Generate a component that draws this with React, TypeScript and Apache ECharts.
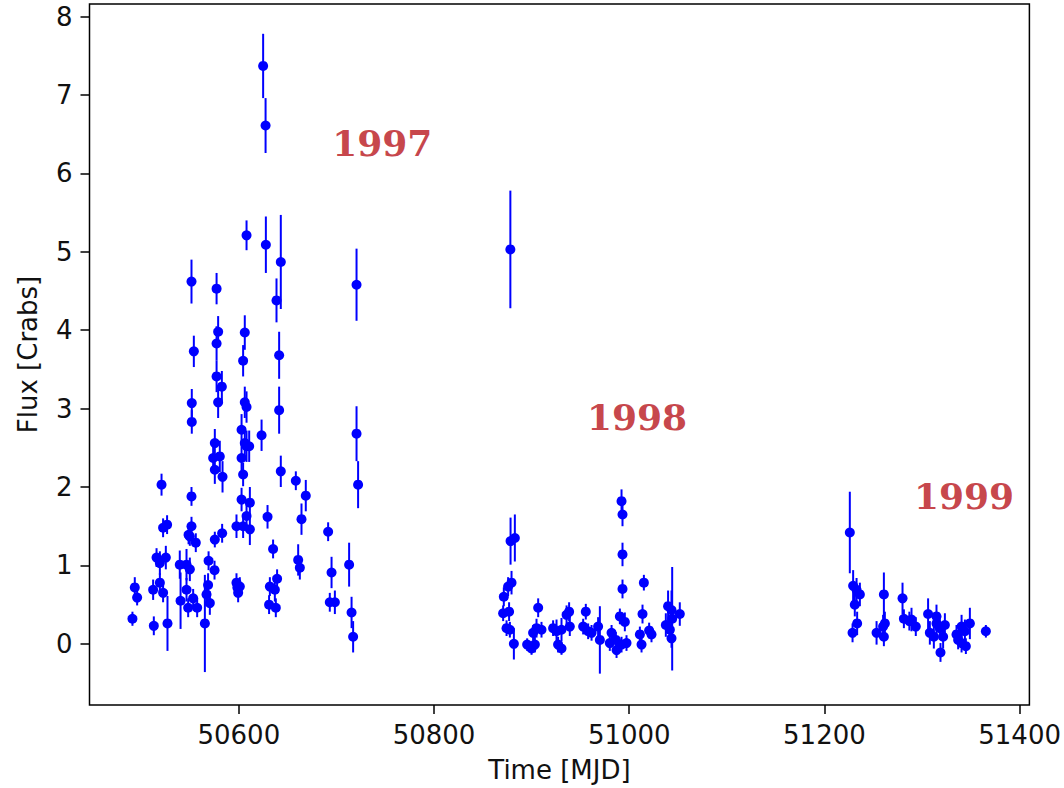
import React, { useEffect, useRef } from "react";
import * as echarts from "echarts";

// Observation times (MJD)
const mjd = [
  // 1997
  50491, 50493.4, 50495.8, 50512.2, 50512.9, 50515.7, 50519.1, 50519.1, 50520.8, 50522.4,
  50522.4, 50525.2, 50526.5, 50526.9, 50539.5, 50540.3, 50546.4, 50546.4, 50548.1, 50548.5,
  50549.8, 50549.8, 50551.5, 50551.5, 50551.5, 50553.9, 50551.8, 50551.8, 50553.2, 50555.9,
  50557.3, 50565.2, 50566.9, 50568.5, 50569, 50570.3, 50573.7, 50575.1, 50575.4, 50575.4,
  50575.4, 50577.2, 50577.2, 50577.2, 50578.8, 50578.8, 50580.5, 50582.6, 50582.9, 50583.3,
  50597.6, 50597.6, 50599.3, 50598.5, 50601, 50602.8, 50602.8, 50602.8, 50604.4, 50604.4,
  50604.4, 50606.1, 50606.1, 50606.1, 50607.9, 50607.9, 50607.9, 50607.9, 50610.6, 50611.3,
  50611.3, 50623.3, 50624.9, 50627.4, 50627.7, 50629.4, 50631, 50631.8, 50635.1, 50636.9,
  50637.9, 50638.6, 50639.2, 50641.3, 50641.3, 50643, 50643, 50658.4, 50660.8, 50662.5,
  50664.2, 50668.6, 50691.5, 50693.2, 50695, 50698.4, 50713, 50715.5, 50717.1, 50720.6,
  50720.6, 50722.2,
  // 1998
  50870.8, 50871.5, 50874.3, 50875.9, 50876.9, 50877.7, 50878.2, 50878.4, 50879.4, 50881.8,
  50882.8, 50895.4, 50899.9, 50901.5, 50903.3, 50905, 50906.7, 50910.1, 50922, 50925.5,
  50927.1, 50930.6, 50930.6, 50935.8, 50938.4, 50939.1, 50952.8, 50955.5, 50957.9, 50961.4,
  50968.1, 50969.9, 50980.1, 50981.9, 50986.3, 50987, 50990.4, 50992.1, 50992.1, 50993.1,
  50993.1, 50993.1, 50995.5, 50997.2, 51010.9, 51012.6, 51013.6, 51015, 51020.4, 51022.8,
  51037.5, 51039.8, 51041.6, 51043.3, 51044, 51043.3, 51051.8,
  // 1999
  51226, 51228.8, 51229.4, 51231.1, 51232.9, 51233.5, 51236.3, 51253.4, 51260.1, 51260.9,
  51260.9, 51261.9, 51280, 51281.4, 51287, 51289.2, 51293.6, 51306.2, 51308, 51312.1,
  51314.8, 51314.8, 51318.2, 51318.9, 51321.6, 51323.4, 51335.3, 51337, 51340.5, 51340.5,
  51343.9, 51344.9, 51349, 51365.4,
];

// Flux values (Crabs)
const flux = [
  // 1997
  0.32, 0.72, 0.59, 0.69, 0.23, 1.10, 1.03, 0.78, 2.03, 1.48,
  0.65, 1.10, 1.52, 0.26, 1.01, 0.55, 1.01, 0.69, 0.46, 1.39,
  0.95, 1.37, 4.62, 1.88, 1.50, 3.73, 3.07, 2.83, 0.58, 1.29,
  0.46, 0.26, 0.63, 0.75, 1.06, 0.52, 2.37, 0.94, 2.56, 2.22,
  1.33, 4.53, 3.83, 3.41, 3.98, 3.08, 2.39, 3.28, 1.41, 2.13,
  1.50, 0.78, 0.65, 0.72, 0.73, 2.73, 2.37, 1.84, 3.61, 2.16,
  1.50, 3.97, 3.08, 2.56, 5.21, 3.02, 2.52, 1.63, 2.52, 1.80,
  1.46, 2.66, 7.37, 6.61, 5.09, 1.62, 0.50, 0.73, 1.21, 0.69,
  0.46, 4.38, 0.83, 3.68, 2.98, 4.87, 2.20, 2.08, 1.07, 0.97,
  1.59, 1.89, 1.43, 0.53, 0.91, 0.53, 1.01, 0.40, 0.09, 4.58,
  2.68, 2.03,
  // 1998
  0.39, 0.60, 0.20, 0.73, 0.41, 0.18, 5.03, 1.31, 0.78, 0.00,
  1.35, -0.01, -0.06, 0.14, -0.01, 0.20, 0.46, 0.18, 0.20, 0.16,
  -0.01, 0.18, -0.06, 0.37, 0.41, 0.22, 0.22, 0.41, 0.16, 0.14,
  0.22, 0.05, 0.01, 0.14, 0.05, -0.08, 0.35, 1.82, -0.01, 1.65,
  1.14, 0.70, 0.28, 0.01, 0.12, -0.01, 0.38, 0.78, 0.17, 0.12,
  0.24, 0.48, 0.18, 0.07, 0.32, 0.43, 0.38,
  // 1999
  1.42, 0.14, 0.74, 0.50, 0.69, 0.26, 0.63, 0.14, 0.22, 0.63,
  0.09, 0.26, 0.58, 0.32, 0.29, 0.31, 0.22, 0.38, 0.14, 0.09,
  0.35, 0.26, 0.20, -0.11, 0.09, 0.24, 0.12, 0.05, 0.22, 0.01,
  0.16, -0.03, 0.26, 0.16,
];

// 1-sigma flux errors (Crabs)
const fluxErr = [
  // 1997
  0.09, 0.13, 0.10, 0.13, 0.12, 0.12, 0.15, 0.12, 0.14, 0.12,
  0.12, 0.15, 0.12, 0.35, 0.18, 0.36, 0.20, 0.15, 0.12, 0.12,
  0.15, 0.12, 0.28, 0.12, 0.12, 0.20, 0.18, 0.15, 0.12, 0.12,
  0.12, 0.62, 0.15, 0.15, 0.12, 0.15, 0.15, 0.12, 0.18, 0.18,
  0.10, 0.20, 0.22, 0.20, 0.20, 0.20, 0.20, 0.20, 0.12, 0.20,
  0.15, 0.12, 0.12, 0.12, 0.12, 0.20, 0.20, 0.15, 0.20, 0.15,
  0.15, 0.22, 0.20, 0.20, 0.19, 0.20, 0.20, 0.18, 0.20, 0.20,
  0.20, 0.20, 0.41, 0.35, 0.36, 0.15, 0.12, 0.12, 0.12, 0.15,
  0.12, 0.28, 0.12, 0.30, 0.30, 0.60, 0.20, 0.12, 0.20, 0.15,
  0.20, 0.20, 0.12, 0.12, 0.20, 0.15, 0.28, 0.20, 0.20, 0.46,
  0.35, 0.30,
  // 1998
  0.10, 0.12, 0.10, 0.12, 0.12, 0.10, 0.75, 0.30, 0.15, 0.20,
  0.30, 0.08, 0.08, 0.10, 0.10, 0.12, 0.12, 0.10, 0.10, 0.15,
  0.10, 0.15, 0.08, 0.12, 0.12, 0.12, 0.10, 0.10, 0.10, 0.10,
  0.12, 0.43, 0.10, 0.10, 0.10, 0.10, 0.10, 0.15, 0.10, 0.15,
  0.15, 0.12, 0.12, 0.10, 0.10, 0.10, 0.12, 0.10, 0.10, 0.10,
  0.15, 0.20, 0.15, 0.12, 0.66, 0.25, 0.15,
  // 1999
  0.52, 0.12, 0.20, 0.15, 0.15, 0.15, 0.15, 0.15, 0.15, 0.28,
  0.12, 0.15, 0.20, 0.12, 0.12, 0.15, 0.12, 0.20, 0.15, 0.15,
  0.15, 0.15, 0.15, 0.12, 0.15, 0.15, 0.12, 0.12, 0.15, 0.12,
  0.15, 0.10, 0.20, 0.08,
];

const xTicks = [50600, 50800, 51000, 51200, 51400];
const yTicks = [0, 1, 2, 3, 4, 5, 6, 7, 8];

const yearLabels = ["1997", "1998", "1999"];
const yearX = [50747, 51008, 51343];
const yearY = [6.39, 2.89, 1.89];

export default function App() {
  const ref = useRef<HTMLDivElement>(null);

  useEffect(() => {
    if (!ref.current) return;
    const chart = echarts.init(ref.current, null, { renderer: "svg" });
    const points = mjd.map((t, i) => [t, flux[i], fluxErr[i]]);
    const font = "DejaVu Sans";
    const option: any = {
      animation: false,
      backgroundColor: "#ffffff",
      grid: {
        left: 89.5,
        right: 34,
        top: 4,
        bottom: 83,
        show: true,
        borderColor: "#000",
        borderWidth: 1.5,
        backgroundColor: "transparent",
      },
      xAxis: {
        type: "value",
        min: 50447,
        max: 51410,
        name: "Time [MJD]",
        nameLocation: "middle",
        nameGap: 52,
        nameTextStyle: { fontFamily: font, fontSize: 26, color: "#111" },
        axisLine: { show: false, onZero: false },
        splitLine: { show: false },
        axisTick: {
          show: true,
          inside: false,
          length: 9,
          customValues: xTicks,
          lineStyle: { color: "#000", width: 1.5 },
        },
        axisLabel: {
          customValues: xTicks,
          formatter: (v: number) => String(v),
          margin: 17,
          fontFamily: font,
          fontSize: 26,
          color: "#111",
        },
      },
      yAxis: {
        type: "value",
        min: -0.78,
        max: 8.16,
        name: "Flux [Crabs]",
        nameLocation: "middle",
        nameGap: 49,
        nameTextStyle: { fontFamily: font, fontSize: 26, color: "#111" },
        axisLine: { show: false, onZero: false },
        splitLine: { show: false },
        axisTick: {
          show: true,
          inside: false,
          length: 9,
          customValues: yTicks,
          lineStyle: { color: "#000", width: 1.5 },
        },
        axisLabel: {
          customValues: yTicks,
          formatter: (v: number) => String(v),
          margin: 17,
          fontFamily: font,
          fontSize: 26,
          color: "#111",
        },
      },
      series: [
        {
          type: "custom",
          name: "errors",
          data: points,
          encode: { x: 0, y: 1 },
          z: 2,
          renderItem: (params: any, api: any) => {
            const x = api.value(0);
            const y = api.value(1);
            const e = api.value(2);
            const p1 = api.coord([x, y + e]);
            const p2 = api.coord([x, y - e]);
            return {
              type: "line",
              shape: { x1: p1[0], y1: p1[1], x2: p2[0], y2: p2[1] },
              style: { stroke: "#0000ff", lineWidth: 2 },
            };
          },
        },
        {
          type: "scatter",
          name: "flux",
          data: points.map((p) => [p[0], p[1]]),
          symbol: "circle",
          symbolSize: 10,
          itemStyle: { color: "#0000ff", opacity: 1 },
          z: 3,
        },
        {
          type: "scatter",
          name: "years",
          data: yearLabels.map((s, i) => ({ value: [yearX[i], yearY[i]], name: s })),
          symbolSize: 0,
          silent: true,
          z: 4,
          label: {
            show: true,
            position: "inside",
            formatter: (p: any) => p.name,
            fontFamily: "DejaVu Serif",
            fontWeight: "bold",
            fontSize: 36,
            color: "#b8141a",
          },
        },
      ],
    };
    chart.setOption(option);
    return () => chart.dispose();
  }, []);

  return (
    <div
      ref={ref}
      style={{ position: "fixed", left: 0, top: 0, width: 1064, height: 788, background: "#fff" }}
    />
  );
}
